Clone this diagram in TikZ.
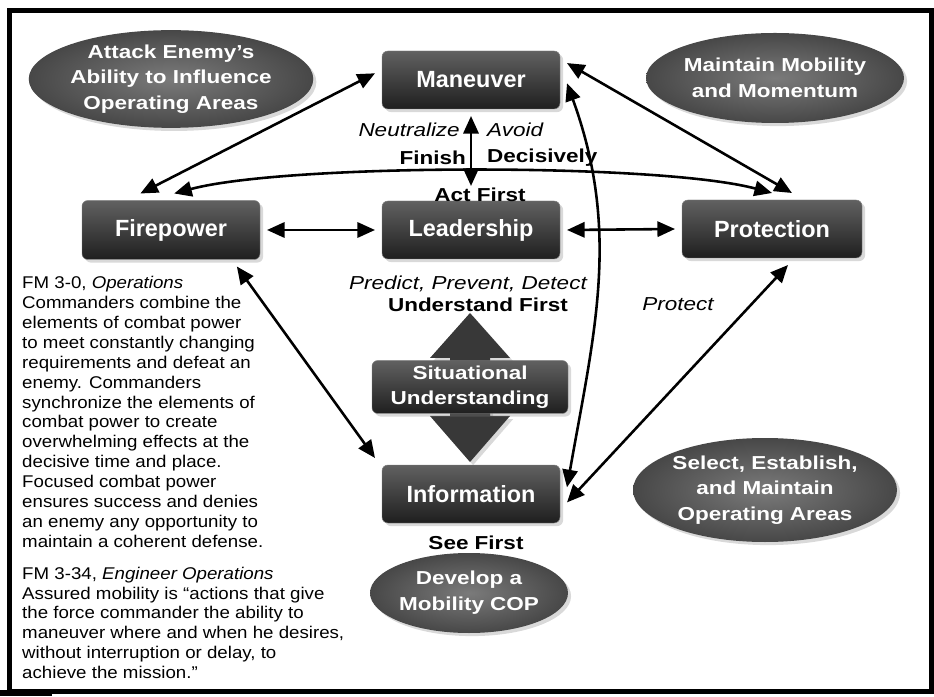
\documentclass[tikz,border=0pt]{standalone}
\usepackage{fontspec}
\setmainfont{Liberation Sans}
\newfontfamily\bodyfont{Liberation Sans}[FakeStretch=1.1]
\newfontfamily\labelfont{Liberation Sans}[FakeStretch=1.2]
\usepackage{tikz}
\usetikzlibrary{arrows.meta}
\usetikzlibrary{positioning}
\usetikzlibrary{shapes}
\usetikzlibrary{shadows}
\newlength{\px}
\setlength{\px}{0.03cm}
\tikzstyle{element} = [rectangle, draw=black!50, top color=black!62, bottom color=black!88,
    rounded corners=5pt, text=white, font=\fontsize{20}{24}\selectfont\bfseries,
    minimum width=178\px, minimum height=58\px, outer sep=7\px, drop shadow={opacity=0.3}]
\tikzstyle{task} = [ellipse, inner color=black!52, outer color=black!72, text=white,
    align=center, inner sep=0pt, font=\labelfont\fontsize{16}{22}\selectfont\bfseries,
    drop shadow={opacity=0.3}]
\tikzstyle{word} = [inner sep=0pt, font=\labelfont\fontsize{16}{19}\selectfont]

\begin{document}
\begin{tikzpicture}[x=0.03cm,y=0.03cm,>={Triangle[length=15pt,width=13pt]},
                    link/.style={<->,line width=2.2pt}]
  \useasboundingbox (0,0) rectangle (934,696);
  \draw[line width=5\px] (9,5) rectangle (931,685.5);
  \fill (0,0) rectangle (52,6);

  % goals
  \node[task,minimum width=262\px,minimum height=94\px] (attack) at (171,617)
       {Attack Enemy’s\\Ability to Influence\\Operating Areas};
  \node[task,minimum width=245\px,minimum height=90\px] (mobility) at (775,618)
       {Maintain Mobility\\and Momentum};
  \node[task,minimum width=264\px,minimum height=104\px] (areas) at (765,206)
       {Select, Establish,\\and Maintain\\Operating Areas};
  \node[task,minimum width=194\px,minimum height=80\px] (cop) at (469,103)
       {Develop a\\Mobility COP};

  % elements of combat power
  \node[element]                     (man)  at (471,616) {Maneuver};
  \node[element]                     (lead) at (471,466) {Leadership};
  \node[element,minimum height=59\px] (fire) at (171,466) {Firepower};
  \node[element,minimum width=180\px] (prot) at (772,467) {Protection};
  \node[element]                     (info) at (471,202) {Information};

  \fill[black!78,drop shadow={opacity=0.3}] (470,383) -- (510,338) -- (490,338) -- (490,280)
       -- (510,280) -- (470,234) -- (430,280) -- (450,280) -- (450,338) -- (430,338) -- cycle;
  \node[element,minimum width=196\px,minimum height=53\px,align=center,
        font=\labelfont\fontsize{16}{21}\selectfont\bfseries] (su) at (470,309)
       {Situational\\Understanding};

  % labels
  \node[word,anchor=east] (neut)  at (460,566) {\itshape Neutralize};
  \node[word,anchor=west] (avoid) at (487,566) {\itshape Avoid};
  \node[word,anchor=east] (fin)   at (466,538) {\bfseries Finish};
  \node[word,anchor=west] (dec)   at (487,538) {\bfseries Decisively};
  \node[word] (act)     at (480,501) {\bfseries Act First};
  \node[word] (predict) at (468,412) {\itshape Predict, Prevent, Detect};
  \node[word] (under)   at (478,391) {\bfseries Understand First};
  \node[word] (protect) at (678,392) {\itshape Protect};
  \node[word] (see)     at (476,153) {\bfseries See First};

  \node[anchor=north west,inner sep=0pt,align=left,
        font=\bodyfont\fontsize{14.5}{17}\selectfont] (fm) at (22,420)
       {FM 3-0, \textit{Operations}\\
        Commanders combine the\\
        elements of combat power\\
        to meet constantly changing\\
        requirements and defeat an\\
        enemy. Commanders\\
        synchronize the elements of\\
        combat power to create\\
        overwhelming effects at the\\
        decisive time and place.\\
        Focused combat power\\
        ensures success and denies\\
        an enemy any opportunity to\\
        maintain a coherent defense.\\[10pt]
        FM 3-34, \textit{Engineer Operations}\\
        Assured mobility is “actions that give\\
        the force commander the ability to\\
        maneuver where and when he desires,\\
        without interruption or delay, to\\
        achieve the mission.”};

  % connectors
  \path (fire.130) edge[link] (man.176)
        (fire.85)  edge[link,out=15,in=165,looseness=0.5] (prot.north)
        (man.10)   edge[link] (prot.61)
        (man.south) edge[link,shorten >=8\px] (lead.north)
        (fire.east) edge[link] (lead.west)
        (lead.east) edge[link] (prot.west)
        (fire.-29) edge[link] (info.north west)
        (man.-2)   edge[link,out=-70,in=80] (info.4)
        (prot.-66) edge[link] (info.-5);
\end{tikzpicture}
\end{document}
